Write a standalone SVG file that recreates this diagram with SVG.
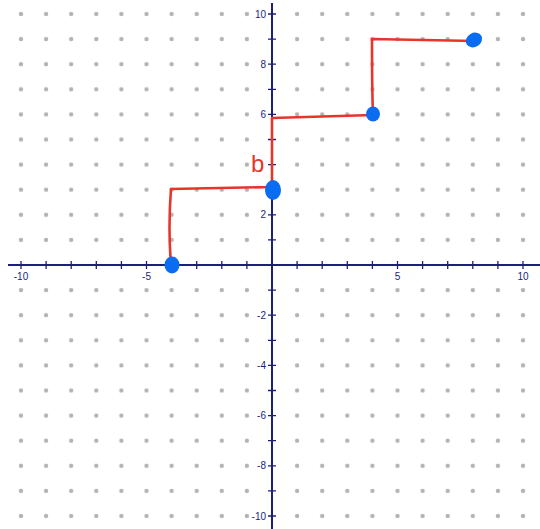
<svg xmlns="http://www.w3.org/2000/svg" width="540" height="529" viewBox="0 0 540 529">
<style>
.axis{stroke:#1c1f7a;stroke-width:2;fill:none}
.tick{stroke:#1c1f7a;stroke-width:1.3}
.lbl{font-family:"Liberation Sans",Arial,sans-serif;font-size:10px;fill:#1c1f7a}
.path{stroke:#e8352b;stroke-width:2.6;fill:none;stroke-linecap:round;stroke-linejoin:round}
.pt{fill:#0a6cf0}
</style>
<defs>
<pattern id="dots" patternUnits="userSpaceOnUse" x="259.45" y="252.45" width="25.1" height="25.1">
<circle cx="12.55" cy="12.55" r="2.2" fill="#b3b3b3"/>
</pattern>
</defs>
<rect width="540" height="529" fill="#ffffff"/>
<g id="grid">
<rect x="8.45" y="1.45" width="251" height="251" fill="url(#dots)"/>
<rect x="284.55" y="1.45" width="251" height="251" fill="url(#dots)"/>
<rect x="8.45" y="277.55" width="251" height="251" fill="url(#dots)"/>
<rect x="284.55" y="277.55" width="251" height="251" fill="url(#dots)"/>
</g>
<g id="axes">
<line class="axis" x1="8" y1="265" x2="540" y2="265"/>
<line class="axis" x1="272" y1="3" x2="272" y2="529"/>
<path class="tick" d="M21,261v8M46.1,261v8M71.2,261v8M96.3,261v8M121.4,261v8M146.5,261v8M171.6,261v8M196.7,261v8M221.8,261v8M246.9,261v8M297.1,261v8M322.2,261v8M347.3,261v8M372.4,261v8M397.5,261v8M422.6,261v8M447.7,261v8M472.8,261v8M497.9,261v8M523,261v8"/>
<path class="tick" d="M268,14h8M268,39.1h8M268,64.2h8M268,89.3h8M268,114.4h8M268,139.5h8M268,164.6h8M268,189.7h8M268,214.8h8M268,239.9h8M268,290.1h8M268,315.2h8M268,340.3h8M268,365.4h8M268,390.5h8M268,415.6h8M268,440.7h8M268,465.8h8M268,490.9h8M268,516h8"/>
</g>
<g id="labels" class="lbl">
<text x="21" y="280" text-anchor="middle">-10</text>
<text x="146.5" y="280" text-anchor="middle">-5</text>
<text x="397.5" y="280" text-anchor="middle">5</text>
<text x="523" y="280" text-anchor="middle">10</text>
<g text-anchor="end">
<text x="266" y="17.5">10</text>
<text x="266" y="67.7">8</text>
<text x="266" y="117.9">6</text>
<text x="266" y="218.3">2</text>
<text x="266" y="318.7">-2</text>
<text x="266" y="368.9">-4</text>
<text x="266" y="419.1">-6</text>
<text x="266" y="469.3">-8</text>
<text x="266" y="519.5">-10</text>
</g>
</g>
<g id="connectors">
<path class="path" d="M171,264 C169,240 169,215 171,189 L272,187 L272,118 L373,115 C372,90 372,65 372,39 L475,41"/>
</g>
<g id="mark">
<text x="251" y="172" font-family="Liberation Sans,Arial,sans-serif" font-size="24" fill="#e8352b">b</text>
</g>
<g id="p1"><ellipse class="pt" cx="172" cy="265" rx="7.5" ry="8.5"/></g>
<g id="p2"><ellipse class="pt" cx="273" cy="190" rx="8" ry="10"/></g>
<g id="p3"><ellipse class="pt" cx="373" cy="114" rx="7" ry="7.5"/></g>
<g id="p4"><ellipse class="pt" cx="474" cy="40" rx="8.5" ry="7" transform="rotate(-30 474 40)"/></g>
</svg>
